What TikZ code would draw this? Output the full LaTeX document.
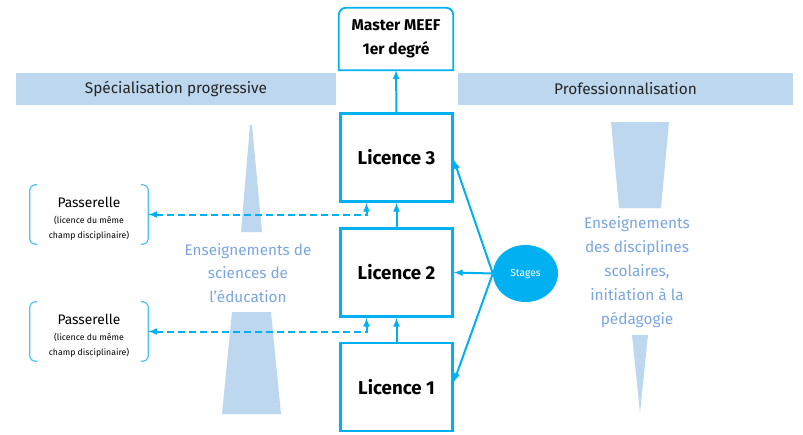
\documentclass[tikz,border=0pt]{standalone}
\usepackage{fontspec}
\setmainfont{Fira Sans}
\usetikzlibrary{shapes.geometric, arrows}
\definecolor{cyanline}{HTML}{00B0F0}
\definecolor{bandblue}{HTML}{BDD7EE}
\definecolor{softtext}{HTML}{7AA6E0}
\definecolor{bracketcol}{HTML}{4DC3F3}
\tikzstyle{licence} = [draw=cyanline, line width=2.6pt, minimum width=112pt, minimum height=88pt, font=\fontsize{18.7}{20}\selectfont\bfseries]
\tikzstyle{band} = [fill=bandblue, minimum height=32pt, font=\fontsize{15.4}{16}\selectfont, text=black!85]
\tikzstyle{arrow} = [line width=2pt, draw=cyanline, ->, >=latex]
\tikzstyle{dasharrow} = [line width=2pt, draw=cyanline, dash pattern=on 7pt off 4pt, <->, >=latex]
\tikzstyle{passerelle} = [minimum width=118pt, minimum height=59pt, align=center, font=\fontsize{8.7}{15.5}\selectfont]
\tikzstyle{cone} = [fill=bandblue, draw=none]
\tikzstyle{softlabel} = [align=center, text=softtext, font=\fontsize{15.3}{23.5}\selectfont]

\begin{document}
\begin{tikzpicture}[x=1pt, y=-1pt]
      \useasboundingbox (0,0) rectangle (803,434);

      % Bands
      \node[band, minimum width=320pt] (bandL) at (176,89) {Spécialisation progressive};
      \node[band, minimum width=335pt] (bandR) at (625.5,88.5) {Professionnalisation};

      % Cones
      \fill[cone] (250,125) -- (252,125) -- (262,232) -- (241,232) -- cycle;
      \fill[cone] (232,312) -- (271,312) -- (281,414) -- (222,414) -- cycle;
      \fill[cone] (611,122) -- (669,122) -- (661,208) -- (619,208) -- cycle;
      \fill[cone] (632,335) -- (648,335) -- (640,413) -- cycle;

      % Nodes
      \node[minimum width=114pt, minimum height=62pt, align=center, font=\fontsize{15.6}{24}\selectfont\bfseries] (master) at (396,39) {Master MEEF\\1er degré};
      \node[licence] (L3) at (396.5,157.5) {Licence 3};
      \node[licence] (L2) at (396.5,272.5) {Licence 2};
      \node[licence] (L1) at (396.5,387) {Licence 1};
      \node[ellipse, fill=cyanline, minimum width=65pt, minimum height=57pt, text=white, font=\fontsize{10.3}{12}\selectfont] (stages) at (525.5,273.5) {Stages};
      \node[passerelle] (P1) at (89,219) {{\fontsize{13.8}{15}\selectfont Passerelle}\\(licence du même\\champ disciplinaire)};
      \node[passerelle] (P2) at (89,336) {{\fontsize{13.8}{15}\selectfont Passerelle}\\(licence du même\\champ disciplinaire)};
      \node[softlabel] (sciences) at (248,273) {Enseignements de\\sciences de\\l’éducation};
      \node[softlabel, font=\fontsize{15.4}{24}\selectfont] (disciplines) at (637,272) {Enseignements\\des disciplines\\scolaires,\\initiation à la\\pédagogie};

      % Master box, rounded on top only
      \draw[cyanline, line width=1.8pt] (master.south west) [rounded corners=7pt] -- (master.north west) -- (master.north east) [sharp corners] -- (master.south east) -- cycle;

      % Passerelle brackets (a bit above the text)
      \foreach \p in {P1,P2} {
        \draw[bracketcol, line width=1.2pt, rounded corners=5pt] ([xshift=7pt,yshift=4.5pt]\p.north west) -- ([yshift=4.5pt]\p.north west) -- ([yshift=4.5pt]\p.south west) -- ([xshift=7pt,yshift=4.5pt]\p.south west);
        \draw[bracketcol, line width=1.2pt, rounded corners=5pt] ([xshift=-7pt,yshift=4.5pt]\p.north east) -- ([yshift=4.5pt]\p.north east) -- ([yshift=4.5pt]\p.south east) -- ([xshift=-7pt,yshift=4.5pt]\p.south east);
      }

      % Edges
      \draw[arrow] (L1.north) -- (L2.south);
      \draw[arrow] (L2.north) -- (L3.south);
      \draw[arrow] (L3.north) -- (master.south);
      \draw[arrow] (stages.west) -- ([yshift=-2.5pt]L3.east);
      \draw[arrow] (stages.west) -- (L2.east);
      \draw[arrow] (stages.west) -- ([yshift=5pt]L1.east);
      \draw[dasharrow] ([yshift=4.5pt]P1.east) -| ([xshift=-30pt]L3.south);
      \draw[dasharrow] ([yshift=4.5pt]P2.east) -| ([xshift=-30pt]L2.south);
\end{tikzpicture}
\end{document}
